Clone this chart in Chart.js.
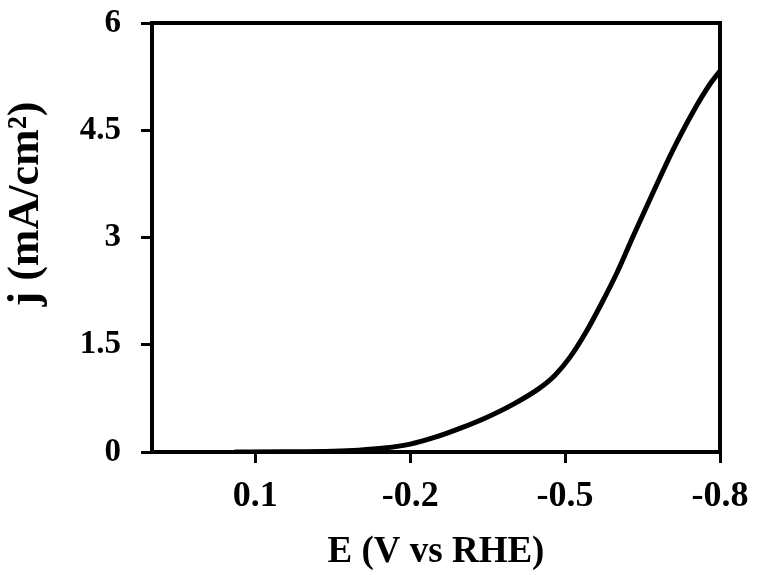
<!DOCTYPE html>
<html lang="en">
  <head>
    <meta charset="UTF-8" />
    <title>j vs E (V vs RHE)</title>
    <style>
      body {
        margin: 0;
        background: #fff;
      }
    </style>
    <script src="https://cdn.jsdelivr.net/npm/chart.js"></script>
  </head>
  <body>
    <canvas id="graph" width="758" height="575"></canvas>

    <script>
      // curva: potencial E (V vs RHE) y densidad de corriente j (mA/cm2)
      const potentialE = [
        0.14, 0.05, -0.05, -0.1, -0.15, -0.2, -0.25, -0.3, -0.35, -0.4, -0.45,
        -0.48, -0.51, -0.54, -0.57, -0.6, -0.632, -0.671, -0.71, -0.748,
        -0.781, -0.8,
      ];
      const currentJ = [
        0, 0.003, 0.012, 0.026, 0.055, 0.11, 0.21, 0.34, 0.49, 0.67, 0.89,
        1.07, 1.33, 1.67, 2.07, 2.5, 3.02, 3.64, 4.24, 4.76, 5.15, 5.33,
      ];

      // marcas de los ejes
      const xTicks = [0.1, -0.2, -0.5, -0.8];
      const xTickLabels = ["0.1", "-0.2", "-0.5", "-0.8"];
      const yTicks = [0, 1.5, 3, 4.5, 6];
      const yTickLabels = ["0", "1.5", "3", "4.5", "6"];

      const xTitle = "E (V vs RHE)";
      const yTitle = "j (mA/cm\u00b2)";

      const serif = '"Liberation Serif", "Times New Roman", serif';

      // marco negro alrededor del area del grafico + titulo del eje y
      const framePlugin = {
        id: "frame",
        afterDraw(chart) {
          const { ctx, chartArea: a } = chart;
          ctx.save();
          ctx.strokeStyle = "#000";
          ctx.lineWidth = 4;
          ctx.strokeRect(a.left, a.top, a.right - a.left, a.bottom - a.top);

          ctx.translate(27, 204);
          ctx.rotate(-Math.PI / 2);
          ctx.fillStyle = "#000";
          ctx.font = "bold 44px " + serif;
          ctx.textAlign = "center";
          ctx.textBaseline = "middle";
          ctx.fillText(yTitle, 0, 0);
          ctx.restore();
        },
      };

      const points = potentialE.map((e, i) => ({ x: e, y: currentJ[i] }));

      new Chart(document.getElementById("graph"), {
        type: "line",
        data: {
          datasets: [
            {
              data: points,
              borderColor: "#000",
              borderWidth: 5,
              pointRadius: 0,
              cubicInterpolationMode: "monotone",
            },
          ],
        },
        options: {
          responsive: false,
          animation: false,
          layout: { padding: { top: 23, right: 38, left: 0, bottom: 0 } },
          plugins: {
            legend: { display: false },
            tooltip: { enabled: false },
          },
          scales: {
            x: {
              type: "linear",
              min: -0.8,
              max: 0.3,
              reverse: true,
              afterBuildTicks: (s) => {
                s.ticks = xTicks.map((v) => ({ value: v }));
              },
              afterFit: (s) => {
                s.height = 123;
                s.paddingLeft = 0;
                s.paddingRight = 0;
              },
              ticks: {
                color: "#000",
                padding: 12,
                font: { family: serif, size: 36, weight: "bold" },
                callback: (v) => xTickLabels[xTicks.indexOf(v)],
              },
              grid: {
                drawOnChartArea: false,
                color: "#000",
                lineWidth: 3,
                tickLength: 11,
              },
              border: { color: "#000", width: 4 },
              title: {
                display: true,
                text: xTitle,
                color: "#000",
                padding: 0,
                font: { family: serif, size: 37, weight: "bold" },
              },
            },
            y: {
              min: 0,
              max: 6,
              afterBuildTicks: (s) => {
                s.ticks = yTicks.map((v) => ({ value: v }));
              },
              afterFit: (s) => {
                s.width = 152;
                s.paddingTop = 0;
                s.paddingBottom = 0;
              },
              ticks: {
                color: "#000",
                padding: 20,
                font: { family: serif, size: 33, weight: "bold" },
                callback: (v) => yTickLabels[yTicks.indexOf(v)],
              },
              grid: {
                drawOnChartArea: false,
                color: "#000",
                lineWidth: 3,
                tickLength: 11,
              },
              border: { color: "#000", width: 4 },
            },
          },
        },
        plugins: [framePlugin],
      });
    </script>
  </body>
</html>
